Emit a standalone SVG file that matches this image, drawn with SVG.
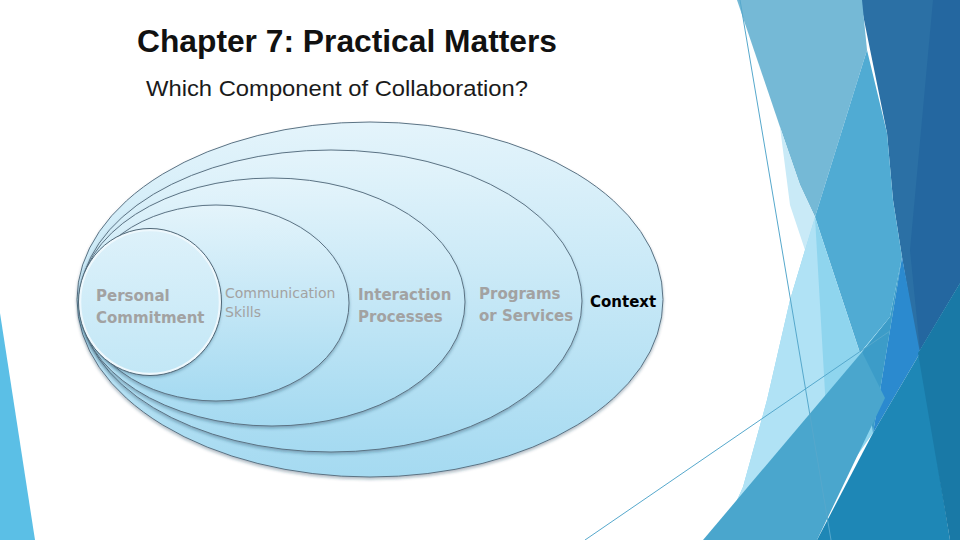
<svg xmlns="http://www.w3.org/2000/svg" width="960" height="540" viewBox="0 0 960 540">
<defs>
<linearGradient id="fillG" x1="0" y1="0" x2="0" y2="1">
<stop offset="0" stop-color="#e4f4fb"/>
<stop offset="1" stop-color="#a5daf1"/>
</linearGradient>
<linearGradient id="innerG" x1="0" y1="0" x2="0" y2="1">
<stop offset="0" stop-color="#ddf1fa"/>
<stop offset="1" stop-color="#c2e7f6"/>
</linearGradient>
<filter id="sh" x="-10%" y="-10%" width="120%" height="125%">
<feDropShadow dx="0" dy="2" stdDeviation="1.5" flood-color="#1d3d55" flood-opacity="0.35"/>
</filter>
<style>
.ring{fill:url(#fillG);stroke:#5b7384;stroke-width:1;filter:url(#sh)}
.lbl{font-family:"DejaVu Sans","Liberation Sans",sans-serif;font-weight:bold;font-size:15px;fill:#a2a2a2}
.lblr{font-family:"DejaVu Sans","Liberation Sans",sans-serif;font-size:14px;fill:#a2a2a2}
.thin{stroke:#56a8cc;stroke-width:1;fill:none}
</style>
</defs>
<rect width="960" height="540" fill="#ffffff"/>
<g id="background">
<polygon points="860,0 960,0 960,283 918,353 902,257 893,200 887,133" fill="#2b70a5"/>
<polygon points="933,0 960,0 960,283 920,350 910,250" fill="#2467a0"/>
<polygon points="737,0 862,0 867,50 815,217 800,185 780,127" fill="#75b9d6"/>
<polygon points="780,127 800,185 815,217 805,250 790,205" fill="#c9eaf7"/>
<polygon points="867,50 887,133 893,200 902,257 890,317 860,353 815,217" fill="#50abd3"/>
<polygon points="815,217 860,353 890,317 902,257 873,433 840,480 760,540 715,540 728,520 743,487 767,400 790,300 805,250" fill="#8fd5ee"/>
<polygon points="805,250 815,217 826,410 705,540 715,540 728,520 743,487 767,400 790,300" fill="#b0e2f5"/>
<polygon points="902,257 920,353 873,433" fill="#2b8acf"/>
<polygon points="890,317 902,257 873,433 862,352" fill="#3c9cc8"/>
<polygon points="873,433 920,353 950,540 817,540" fill="#1e87b6"/>
<polygon points="918,353 960,283 960,540 950,540" fill="#1979a6"/>
<polygon points="703,540 862,352 885,398 817,540" fill="#4aa6cd"/>
<polygon points="0,313 35,540 0,540" fill="#5bbfe6"/>
<line class="thin" x1="740" y1="0" x2="831" y2="540"/>
<line class="thin" x1="585" y1="540" x2="890" y2="331"/>
</g>
<g id="title">
<text x="137" y="52" font-family="Liberation Sans, Arial, sans-serif" font-weight="bold" font-size="31" fill="#111111" textLength="420" lengthAdjust="spacingAndGlyphs">Chapter 7: Practical Matters</text>
<text x="146" y="96" font-family="Liberation Sans, Arial, sans-serif" font-size="22" fill="#1a1a1a" textLength="382" lengthAdjust="spacingAndGlyphs">Which Component of Collaboration?</text>
</g>
<g id="context">
<ellipse class="ring" cx="370" cy="299.5" rx="293" ry="177.5"/>
<text class="lbl" x="590" y="307" style="fill:#000000">Context</text>
</g>
<g id="programs">
<ellipse class="ring" cx="331" cy="301" rx="251" ry="151"/>
<text class="lbl" x="479" y="299">Programs</text>
<text class="lbl" x="479" y="321">or Services</text>
</g>
<g id="interaction">
<ellipse class="ring" cx="272" cy="302" rx="193" ry="124"/>
<text class="lbl" x="358" y="300">Interaction</text>
<text class="lbl" x="358" y="322">Processes</text>
</g>
<g id="communication">
<ellipse class="ring" cx="216" cy="303" rx="133" ry="98"/>
<text class="lblr" x="225" y="298">Communication</text>
<text class="lblr" x="225" y="317">Skills</text>
</g>
<g id="personal">
<ellipse cx="150" cy="302" rx="70" ry="72" fill="url(#innerG)" stroke="#eef8fd" stroke-width="2.5" filter="url(#sh)"/>
<ellipse cx="150" cy="302" rx="71.5" ry="73.5" fill="none" stroke="#4f6777" stroke-width="1"/>
<text class="lbl" x="96" y="301">Personal</text>
<text class="lbl" x="96" y="323">Commitment</text>
</g>
</svg>
